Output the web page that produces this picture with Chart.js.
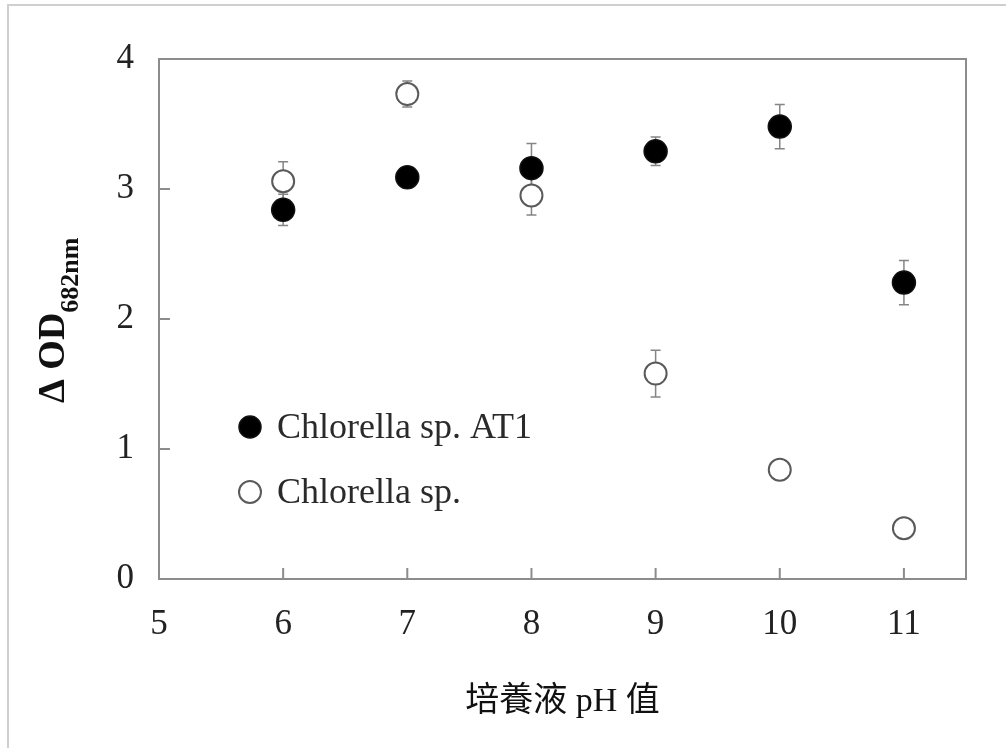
<!DOCTYPE html>
<html>
<head>
<meta charset="utf-8">
<script src="https://cdn.jsdelivr.net/npm/chart.js@4"></script>
<style>
html,body{margin:0;padding:0;background:#fff;}
#wrap{width:1006px;height:748px;}
</style>
</head>
<body>
<div id="wrap"><canvas id="c" width="1006" height="748"></canvas></div>
<script>
// ---- data ----
const phValues = [6, 7, 8, 9, 10, 11];
const at1Values = [2.84, 3.09, 3.16, 3.29, 3.48, 2.28];
const at1Errors = [0.12, 0.05, 0.19, 0.11, 0.17, 0.17];
const spValues = [3.06, 3.73, 2.95, 1.58, 0.84, 0.39];
const spErrors = [0.15, 0.10, 0.15, 0.18, 0.03, 0.03];
const xTickValues = [5, 6, 7, 8, 9, 10, 11];
const yTickValues = [0, 1, 2, 3, 4];
const seriesLabels = ['Chlorella sp. AT1', 'Chlorella sp.'];
const xTitleText = '培養液 pH 值';
const yTitleMain = 'Δ OD';
const yTitleSub = '682nm';

const serif = "'Liberation Serif','Times New Roman',serif";
const errorSets = [at1Errors, spErrors];

const decorPlugin = {
  id: 'decor',
  beforeDatasetsDraw(chart) {
    const ctx = chart.ctx;
    const a = chart.chartArea;
    const xs = chart.scales.x, ys = chart.scales.y;
    ctx.save();
    // axis box
    ctx.strokeStyle = '#8c8c8c';
    ctx.lineWidth = 2;
    ctx.strokeRect(a.left, a.top, a.right - a.left, a.bottom - a.top);
    // inner ticks
    ctx.beginPath();
    yTickValues.forEach(v => {
      const y = ys.getPixelForValue(v);
      ctx.moveTo(a.left, y); ctx.lineTo(a.left + 11, y);
    });
    xTickValues.forEach(v => {
      const x = xs.getPixelForValue(v);
      ctx.moveTo(x, a.bottom); ctx.lineTo(x, a.bottom - 11);
    });
    ctx.stroke();
    // error bars
    ctx.strokeStyle = '#858585';
    ctx.lineWidth = 1.5;
    chart.data.datasets.forEach((ds, i) => {
      const meta = chart.getDatasetMeta(i);
      const errs = errorSets[i];
      ds.data.forEach((p, j) => {
        const x = meta.data[j].x;
        const yt = ys.getPixelForValue(p.y + errs[j]);
        const yb = ys.getPixelForValue(p.y - errs[j]);
        ctx.beginPath();
        ctx.moveTo(x, yt); ctx.lineTo(x, yb);
        ctx.moveTo(x - 5, yt); ctx.lineTo(x + 5, yt);
        ctx.moveTo(x - 5, yb); ctx.lineTo(x + 5, yb);
        ctx.stroke();
      });
    });
    ctx.restore();
  },
  afterDraw(chart) {
    const ctx = chart.ctx;
    ctx.save();
    // outer frame (top and left)
    ctx.strokeStyle = '#cfcfcf';
    ctx.lineWidth = 2;
    ctx.beginPath();
    ctx.moveTo(8, 748); ctx.lineTo(8, 5); ctx.lineTo(1006, 5);
    ctx.stroke();

    // legend inside plot
    const legendY = [427, 492];
    chart.data.datasets.forEach((ds, i) => {
      const cx = 250, cy = legendY[i];
      ctx.beginPath();
      ctx.arc(cx, cy, 11, 0, Math.PI * 2);
      ctx.fillStyle = ds.backgroundColor;
      ctx.fill();
      ctx.lineWidth = ds.borderWidth;
      ctx.strokeStyle = ds.borderColor;
      ctx.stroke();
      ctx.fillStyle = '#2a2a2a';
      ctx.font = '36px ' + serif;
      ctx.textBaseline = 'alphabetic';
      ctx.textAlign = 'left';
      ctx.fillText(ds.label, 277, cy + 11);
    });

    // y title with subscript
    ctx.translate(64, 403);
    ctx.rotate(-Math.PI / 2);
    ctx.fillStyle = '#111';
    ctx.textAlign = 'left';
    ctx.textBaseline = 'alphabetic';
    ctx.font = 'bold 38px ' + serif;
    ctx.fillText(yTitleMain, 0, 0);
    const w = ctx.measureText(yTitleMain).width;
    ctx.font = 'bold 26px ' + serif;
    ctx.fillText(yTitleSub, w, 14);
    ctx.restore();
  }
};

new Chart(document.getElementById('c'), {
  type: 'scatter',
  data: {
    datasets: [
      {
        label: seriesLabels[0],
        data: phValues.map((x, i) => ({x: x, y: at1Values[i]})),
        backgroundColor: '#000000',
        borderColor: '#111111',
        borderWidth: 1.5,
        pointRadius: 11.5,
        pointHoverRadius: 11.5
      },
      {
        label: seriesLabels[1],
        data: phValues.map((x, i) => ({x: x, y: spValues[i]})),
        backgroundColor: '#ffffff',
        borderColor: '#5a5a5a',
        borderWidth: 2,
        pointRadius: 11,
        pointHoverRadius: 11
      }
    ]
  },
  options: {
    responsive: false,
    animation: false,
    events: [],
    layout: {padding: {left: 0, right: 40, top: 59, bottom: 0}},
    plugins: {legend: {display: false}, tooltip: {enabled: false}},
    scales: {
      x: {
        type: 'linear',
        min: 5, max: 11.5,
        afterBuildTicks: s => { s.ticks = xTickValues.map(v => ({value: v})); },
        afterFit: s => { s.height = 169; },
        grid: {display: false, drawTicks: false},
        border: {display: false},
        ticks: {
          padding: 25,
          color: '#222',
          font: {family: serif, size: 35},
          maxRotation: 0
        },
        title: {
          display: true,
          text: xTitleText,
          color: '#111',
          font: {family: "'Liberation Serif','Noto Sans CJK TC',serif", size: 34},
          padding: {top: 0, bottom: 26}
        }
      },
      y: {
        type: 'linear',
        min: 0, max: 4,
        afterBuildTicks: s => { s.ticks = yTickValues.map(v => ({value: v})); },
        afterFit: s => { s.width = 159; },
        grid: {display: false, drawTicks: false},
        border: {display: false},
        ticks: {
          padding: 25,
          color: '#222',
          font: {family: serif, size: 35}
        }
      }
    }
  },
  plugins: [decorPlugin]
});
</script>
</body>
</html>
